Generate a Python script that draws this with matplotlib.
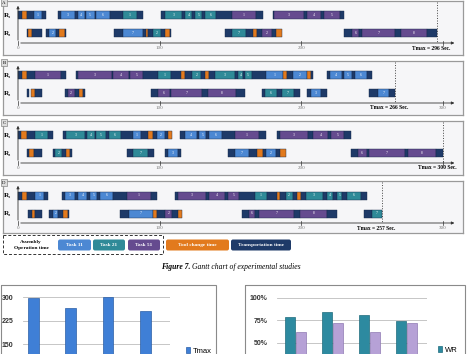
import matplotlib.pyplot as plt
from matplotlib.patches import FancyBboxPatch, Rectangle

# Gantt segments: (start, end, kind, job label); kind T=transport, C=tool change
a_r1 = [(0, 3, 'T', ''), (3, 6, 'C', ''), (6, 11, 'T', ''), (11, 17, '11', '1'), (17, 20, 'T', ''),
        (28, 30, 'T', ''), (30, 40, '11', '3'), (40, 42, 'T', ''), (42, 47, '11', '4'), (47, 48, 'T', ''),
        (48, 54, '11', '5'), (54, 55, 'T', ''), (55, 65, '11', '6'), (65, 74, 'T', ''), (74, 84, '21', '1'),
        (84, 88, 'T', ''), (101, 104, 'T', ''), (104, 116, '21', '3'), (116, 118, 'T', ''), (118, 123, '21', '4'),
        (123, 125, 'T', ''), (125, 130, '21', '5'), (130, 132, 'T', ''), (132, 140, '21', '6'), (140, 151, 'T', ''),
        (151, 168, '51', '1'), (168, 173, 'T', ''), (180, 181, 'T', ''), (181, 202, '51', '3'), (202, 204, 'T', ''),
        (204, 214, '51', '4'), (214, 216, 'T', ''), (216, 227, '51', '5'), (227, 230, 'T', '')]
a_r2 = [(6, 7, 'T', ''), (7, 10, 'C', ''), (10, 17, 'T', ''), (20, 22, 'T', ''), (22, 27, '11', '2'),
        (27, 29, 'T', ''), (29, 33, 'C', ''), (33, 34, 'T', ''), (68, 74, 'T', ''), (74, 88, '11', '7'),
        (88, 90, 'T', ''), (90, 92, 'C', ''), (92, 95, 'T', ''), (95, 101, '21', '2'), (101, 104, 'T', ''),
        (104, 107, 'C', ''), (107, 108, 'T', ''), (146, 151, 'T', ''), (151, 161, '21', '7'), (161, 166, 'T', ''),
        (166, 169, 'C', ''), (169, 172, 'T', ''), (172, 179, '51', '2'), (179, 182, 'T', ''), (182, 186, 'C', ''),
        (230, 236, 'T', ''), (236, 241, '51', '6'), (241, 243, 'T', ''), (243, 266, '51', '7'), (266, 270, 'T', ''),
        (270, 289, '51', '8'), (289, 296, 'T', '')]

b_r1 = [(0, 3, 'T', ''), (3, 6, 'C', ''), (6, 12, 'T', ''), (12, 30, '51', '1'), (30, 34, 'T', ''),
        (41, 42, 'T', ''), (42, 66, '51', '3'), (66, 67, 'T', ''), (67, 78, '51', '4'), (78, 79, 'T', ''),
        (79, 88, '51', '5'), (88, 99, 'T', ''), (99, 108, '21', '1'), (108, 115, 'T', ''), (115, 118, 'C', ''),
        (118, 123, 'T', ''), (123, 129, '21', '2'), (129, 132, 'T', ''), (132, 135, 'C', ''), (135, 139, 'T', ''),
        (139, 153, '21', '3'), (153, 155, 'T', ''), (155, 159, '21', '4'), (159, 160, 'T', ''), (160, 165, '21', '5'),
        (165, 175, 'T', ''), (175, 187, '11', '1'), (187, 190, 'C', ''), (190, 194, 'T', ''), (194, 204, '11', '2'),
        (204, 207, 'C', ''), (207, 208, 'T', ''), (218, 220, 'T', ''), (220, 229, '11', '4'), (229, 230, 'T', ''),
        (230, 236, '11', '5'), (236, 238, 'T', ''), (238, 246, '11', '6'), (246, 250, 'T', '')]
b_r2 = [(6, 8, 'T', ''), (9, 12, 'C', ''), (12, 17, 'T', ''), (33, 35, 'T', ''), (35, 40, '51', '2'),
        (40, 43, 'T', ''), (43, 46, 'C', ''), (46, 47, 'T', ''), (94, 99, 'T', ''), (99, 107, '51', '6'),
        (107, 108, 'T', ''), (108, 130, '51', '7'), (130, 134, 'T', ''), (134, 154, '51', '8'), (154, 160, 'T', ''),
        (172, 174, 'T', ''), (174, 183, '21', '6'), (183, 186, 'T', ''), (186, 195, '21', '7'), (195, 199, 'T', ''),
        (204, 207, 'T', ''), (207, 214, '11', '3'), (214, 218, 'T', ''), (248, 254, 'T', ''), (254, 262, '11', '7'),
        (262, 266, 'T', '')]

c_r1 = [(0, 2, 'T', ''), (2, 6, 'C', ''), (6, 12, 'T', ''), (12, 21, '21', '1'), (21, 25, 'T', ''),
        (32, 34, 'T', ''), (34, 47, '21', '3'), (47, 49, 'T', ''), (49, 54, '21', '4'), (54, 55, 'T', ''),
        (55, 62, '21', '5'), (62, 64, 'T', ''), (64, 73, '21', '6'), (73, 81, 'T', ''), (81, 87, '11', '1'),
        (87, 92, 'T', ''), (92, 95, 'C', ''), (95, 98, 'T', ''), (98, 104, '11', '2'), (104, 106, 'T', ''),
        (106, 109, 'C', ''), (114, 118, 'T', ''), (118, 126, '11', '4'), (126, 128, 'T', ''), (128, 133, '11', '5'),
        (133, 135, 'T', ''), (135, 144, '11', '6'), (144, 153, 'T', ''), (153, 170, '51', '1'), (170, 175, 'T', ''),
        (183, 185, 'T', ''), (185, 205, '51', '3'), (205, 208, 'T', ''), (208, 219, '51', '4'), (219, 221, 'T', ''),
        (221, 230, '51', '5'), (230, 235, 'T', '')]
c_r2 = [(6, 8, 'T', ''), (8, 11, 'C', ''), (11, 17, 'T', ''), (25, 26, 'T', ''), (26, 31, '21', '2'),
        (31, 34, 'T', ''), (34, 37, 'C', ''), (37, 38, 'T', ''), (77, 81, 'T', ''), (81, 92, '21', '7'),
        (92, 96, 'T', ''), (104, 106, 'T', ''), (106, 113, '11', '3'), (113, 115, 'T', ''), (148, 153, 'T', ''),
        (153, 163, '11', '7'), (163, 169, 'T', ''), (169, 173, 'C', ''), (173, 175, 'T', ''), (175, 182, '11', '2'),
        (182, 185, 'T', ''), (185, 189, 'C', ''), (235, 240, 'T', ''), (240, 246, '51', '6'), (246, 248, 'T', ''),
        (248, 273, '51', '7'), (273, 275, 'T', ''), (275, 295, '51', '8'), (295, 300, 'T', '')]

d_r1 = [(0, 3, 'T', ''), (3, 6, 'C', ''), (6, 12, 'T', ''), (12, 18, '11', '1'), (18, 21, 'T', ''),
        (31, 33, 'T', ''), (33, 40, '11', '3'), (40, 42, 'T', ''), (42, 49, '11', '4'), (49, 51, 'T', ''),
        (51, 56, '11', '5'), (56, 58, 'T', ''), (58, 67, '11', '6'), (67, 77, 'T', ''), (77, 94, '51', '1'),
        (94, 98, 'T', ''), (111, 113, 'T', ''), (113, 133, '51', '3'), (133, 135, 'T', ''), (135, 146, '51', '4'),
        (146, 148, 'T', ''), (148, 156, '51', '5'), (156, 167, 'T', ''), (167, 176, '21', '1'), (176, 183, 'T', ''),
        (183, 185, 'C', ''), (185, 189, 'T', ''), (189, 194, '21', '2'), (194, 197, 'T', ''), (197, 200, 'C', ''),
        (200, 203, 'T', ''), (203, 215, '21', '3'), (215, 218, 'T', ''), (218, 222, '21', '4'), (222, 225, 'T', ''),
        (225, 229, '21', '5'), (229, 232, 'T', ''), (232, 242, '21', '6'), (242, 246, 'T', '')]
d_r2 = [(7, 10, 'T', ''), (10, 12, 'C', ''), (12, 17, 'T', ''), (22, 25, 'T', ''), (25, 28, '11', '2'),
        (28, 32, 'T', ''), (32, 35, 'C', ''), (35, 36, 'T', ''), (72, 78, 'T', ''), (78, 95, '11', '7'),
        (95, 98, 'C', ''), (98, 104, 'T', ''), (104, 109, '51', '2'), (109, 113, 'T', ''), (113, 116, 'C', ''),
        (158, 163, 'T', ''), (163, 167, '51', '6'), (167, 170, 'T', ''), (170, 195, '51', '7'), (195, 199, 'T', ''),
        (199, 218, '51', '8'), (218, 225, 'T', ''), (244, 250, 'T', ''), (250, 257, '21', '7')]

panel_names = ['A', 'B', 'C', 'D']
tmax_values = [296, 266, 300, 257]
axis_ticks = [0, 100, 200, 300]

# bottom bar charts (cut off by the page)
experiments = ['1', '2', '3', '4']
tmax_bars = [296, 266, 300, 257]
wr_values = [79, 84, 81, 74]
second_values = [62, 72, 62, 72]

W, H = 467, 354
plt.rcParams['font.family'] = ['Liberation Serif', 'DejaVu Serif']
fig = plt.figure(figsize=(W / 100, H / 100), dpi=100)

colors = {'T': '#1e3a68', 'C': '#e27a1d', '11': '#4c88d3', '21': '#2f8a98', '51': '#654b8f'}


def px_axes(x0, y0, x1, y1):
    return fig.add_axes([x0 / W, 1 - y1 / H, (x1 - x0) / W, (y1 - y0) / H])


SC = 425 / 300  # px per second
tops = [1, 61, 121, 181]
heights = [54, 54, 54, 52]
rows = [(a_r1, a_r2), (b_r1, b_r2), (c_r1, c_r2), (d_r1, d_r2)]

for k in range(4):
    top, h = tops[k], heights[k]
    ax = px_axes(3, top, 463, top + h)
    ax.set_xlim(-15 / SC, 445 / SC)
    ax.set_ylim(h, 0)
    ax.set_facecolor('#f6f6f8')
    for sp in ax.spines.values():
        sp.set_color('#9a9a9a')
        sp.set_linewidth(0.9)
    ax.set_xticks([])
    ax.set_yticks([])
    base = 42
    for ry, segs, rl in ((14.5, rows[k][0], 'R\u2081'), (32.5, rows[k][1], 'R\u2082')):
        for s, e, kind, lab in segs:
            ax.barh(ry, e - s, left=s, height=8, color=colors[kind],
                    edgecolor='#15284a', linewidth=0.3)
            if lab:
                ax.text((s + e) / 2, ry, lab, color='white', fontsize=2.8,
                        ha='center', va='center')
        ax.text(-7.5, ry, rl, fontsize=5, weight='bold', ha='center', va='center')
    ax.annotate('', xy=(310, base), xytext=(0, base),
                arrowprops=dict(arrowstyle='-|>', lw=0.6, color='#333333', mutation_scale=4))
    ax.annotate('', xy=(0, 2), xytext=(0, base),
                arrowprops=dict(arrowstyle='-|>', lw=0.6, color='#333333', mutation_scale=4))
    tm = tmax_values[k]
    for t in axis_ticks:
        ax.plot([t, t], [base - 1.8, base + 1.8], color='#333333', lw=0.5)
        if abs(t - tm) > 20 or t != 300:
            ax.text(t, base + 5, str(t), fontsize=3.6, color='#777777', ha='center', va='center')
    ax.plot([tm, tm], [1, base], ls=':', color='#444444', lw=0.7)
    ax.text(tm - 4, base + 5, 'Tmax = %d Sec.' % tm, fontsize=4, weight='bold',
            ha='center', va='center')

# overlay for legend, labels and caption
ov = fig.add_axes([0, 0, 1, 1])
ov.set_xlim(0, W)
ov.set_ylim(H, 0)
ov.axis('off')

for k in range(4):
    ov.text(4, tops[k] + 1.5, panel_names[k], fontsize=3.5, ha='center', va='center',
            bbox=dict(boxstyle='square,pad=0.3', fc='#dcdcdc', ec='#888888', lw=0.5))

ov.add_patch(Rectangle((3, 235), 160, 19, fill=False, ls=(0, (3, 2)), lw=0.7, ec='#333333'))
ov.text(31, 241.5, 'Assembly', fontsize=3.8, weight='bold', ha='center', va='center')
ov.text(31, 247.5, 'Operation time', fontsize=3.8, weight='bold', ha='center', va='center')
legend_items = [(58, 91, '11', 'Task 11'), (93, 125, '21', 'Task 21'), (128, 160, '51', 'Task 51'),
                (166, 229, 'C', 'Tool change time'), (231, 291, 'T', 'Transportation time')]
for x0, x1, kind, txt in legend_items:
    ov.add_patch(FancyBboxPatch((x0, 239.5), x1 - x0, 11, boxstyle='round,pad=0,rounding_size=2',
                                fc=colors[kind], ec='none'))
    ov.text((x0 + x1) / 2, 245, txt, color='white', fontsize=3.8, weight='bold',
            ha='center', va='center')

ov.text(190, 267, 'Figure 7.', fontsize=5.5, style='italic', weight='bold', ha='right', va='center')
ov.text(192, 267, 'Gantt chart of experimental studies', fontsize=5.5, style='italic',
        ha='left', va='center')

ov.add_patch(Rectangle((1, 285), 215, 80, fill=False, ec='#8a8a8a', lw=0.8))
ov.add_patch(Rectangle((245, 285), 220, 80, fill=False, ec='#8a8a8a', lw=0.8))

# left bar chart
pos = list(range(len(experiments)))
ax1 = px_axes(23, 293.9, 170, 391)
ax1.bar(pos, tmax_bars, width=0.29, color='#3f7fd6', edgecolor='#2b5ea6', lw=0.5, label='Tmax', zorder=3)
ax1.set_xlim(-0.28, 3.66)
ax1.set_ylim(0, 310)
ax1.set_yticks([150, 225, 300])
ax1.set_xticks([])
ax1.grid(axis='y', color='#bdbdbd', lw=0.6)
for sp in ax1.spines.values():
    sp.set_visible(False)
ax1.tick_params(axis='y', length=0, pad=7, labelsize=5, labelcolor='#333333')
for lb in ax1.get_yticklabels():
    lb.set_family('Liberation Sans')
    lb.set_weight('bold')
ax1.legend(loc='center left', bbox_to_anchor=(182 / W, 1 - 351 / H), bbox_transform=fig.transFigure,
           frameon=False, prop={'family': 'Liberation Sans', 'size': 5.5}, handlelength=0.6,
           handletextpad=0.3, borderpad=0)

# right bar chart
ax2 = px_axes(277, 293.5, 427, 388)
ax2.bar([p - 0.15 for p in pos], wr_values, width=0.27, color='#2d8aa0', edgecolor='#1f6b7c',
        lw=0.5, label='WR', zorder=3)
ax2.bar([p + 0.15 for p in pos], second_values, width=0.27, color='#b6a1d6', edgecolor='#8f7ab3',
        lw=0.5, zorder=3)
ax2.set_xlim(-0.5, 3.55)
ax2.set_ylim(0, 105)
ax2.set_yticks([50, 75, 100])
ax2.set_yticklabels(['50%', '75%', '100%'])
ax2.set_xticks([])
ax2.grid(axis='y', color='#bdbdbd', lw=0.6)
for sp in ax2.spines.values():
    sp.set_visible(False)
ax2.tick_params(axis='y', length=0, pad=7, labelsize=5, labelcolor='#333333')
for lb in ax2.get_yticklabels():
    lb.set_family('Liberation Sans')
    lb.set_weight('bold')
ax2.legend(loc='center left', bbox_to_anchor=(434 / W, 1 - 350 / H), bbox_transform=fig.transFigure,
           frameon=False, prop={'family': 'Liberation Sans', 'size': 5.5}, handlelength=0.6,
           handletextpad=0.3, borderpad=0)

fig.savefig('out.png', dpi=100)
